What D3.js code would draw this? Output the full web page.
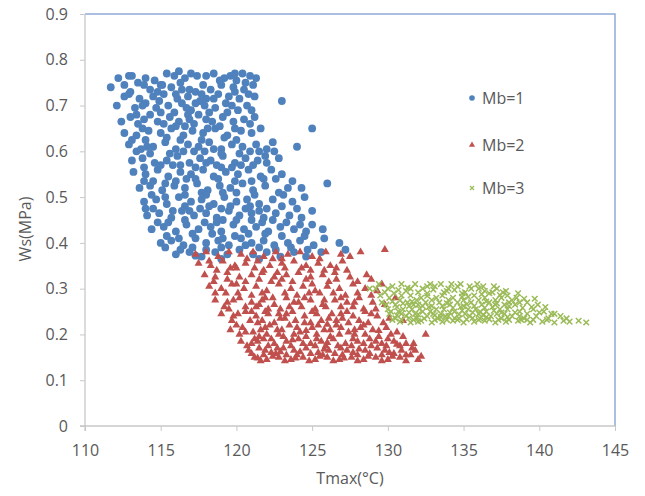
<!DOCTYPE html>
<html lang="en">

<head>
    <meta charset="UTF-8">
    <title>Ws vs Tmax</title>
    <script src="https://d3js.org/d3.v7.min.js"></script>
    <style>
        body {
            margin: 0;
            background: #fff;
        }

        text {
            font-family: "Open Sans", sans-serif;
            fill: #595959;
        }
    </style>
</head>

<body>
    <svg width="645" height="496"></svg>

    <script>
        // [Tmax, Ws] pairs
        const mb1 = [
            [112.2,.76],[113.1,.765],[114.0,.76],[115.4,.77],[115.9,.765],[117.0,.77],[117.4,.765],[118.5,.77],[119.6,.765],[120.4,.77],[120.9,.765],[114.6,.755],[116.6,.76],[119.2,.76],
            [111.7,.74],[112.6,.745],[113.5,.75],[114.3,.735],[115.0,.745],[115.7,.74],[116.3,.75],[117.8,.745],[118.3,.735],[119.0,.745],[119.8,.74],[120.6,.75],[121.1,.745],[116.9,.735],[113.9,.745],
            [112.9,.725],[113.6,.715],[114.5,.72],[115.2,.725],[116.1,.715],[116.8,.72],[117.3,.73],[118.0,.715],[118.8,.725],[119.5,.72],[120.2,.715],[120.8,.725],[114.9,.71],[117.6,.71],[123.0,.71],
            [112.1,.7],[113.3,.695],[114.0,.705],[114.7,.695],[115.5,.7],[116.4,.705],[117.0,.69],[117.9,.7],[118.6,.695],[119.3,.705],[120.1,.69],[120.7,.7],[115.9,.685],[118.2,.685],
            [112.4,.665],[113.0,.675],[113.9,.67],[114.8,.665],[115.6,.675],[116.2,.665],[116.9,.67],[117.5,.68],[118.4,.665],[119.1,.675],[119.8,.665],[120.5,.67],[121.2,.675],[114.3,.68],[117.2,.66],
            [112.6,.64],[113.4,.635],[114.2,.645],[115.0,.64],[115.7,.65],[116.5,.635],[117.1,.645],[117.8,.64],[118.6,.65],[119.4,.635],[120.3,.645],[121.0,.64],[125.0,.65],[116.0,.655],[118.9,.655],
            [112.9,.615],[113.7,.605],[114.5,.61],[115.3,.62],[116.0,.605],[116.8,.615],[117.5,.61],[118.2,.62],[119.0,.605],[119.7,.615],[120.4,.61],[121.3,.615],[122.0,.605],[124.0,.61],[114.0,.625],[117.2,.6],
            [113.1,.58],[113.8,.585],[114.6,.575],[115.4,.58],[116.1,.59],[116.9,.575],[117.6,.585],[118.3,.58],[119.1,.59],[119.9,.575],[120.6,.585],[121.4,.58],[122.8,.585],[115.8,.57],[118.7,.57],[121.9,.59],
            [113.2,.555],[114.0,.55],[114.8,.56],[115.5,.545],[116.3,.555],[117.0,.55],[117.8,.56],[118.5,.545],[119.3,.555],[120.1,.55],[120.8,.56],[121.6,.545],[123.0,.55],[122.3,.56],[116.7,.54],[119.7,.565],
            [113.6,.52],[114.3,.525],[115.1,.515],[115.9,.525],[116.6,.52],[117.4,.53],[118.1,.515],[118.9,.525],[119.6,.52],[120.4,.53],[121.1,.515],[121.9,.525],[126.0,.53],[123.4,.52],[117.7,.51],[120.0,.51],
            [113.9,.49],[114.7,.495],[115.4,.485],[116.2,.5],[117.0,.49],[117.7,.495],[118.5,.485],[119.2,.5],[120.0,.49],[120.7,.495],[121.5,.485],[122.4,.495],[123.7,.49],[116.6,.48],[119.6,.48],[124.5,.5],
            [114.1,.46],[114.9,.465],[115.7,.455],[116.4,.47],[117.2,.46],[118.0,.465],[118.7,.455],[119.5,.47],[120.2,.46],[121.0,.465],[121.8,.455],[122.6,.465],[123.5,.46],[124.3,.455],[117.6,.475],[120.6,.475],
            [114.4,.43],[115.2,.435],[116.0,.425],[116.7,.44],[117.5,.43],[118.3,.435],[119.0,.425],[119.8,.44],[120.5,.43],[121.3,.435],[122.1,.425],[122.9,.435],[123.8,.43],[124.6,.425],[118.7,.445],[121.7,.445],[125.7,.43],
            [115.0,.4],[115.7,.405],[116.5,.395],[117.3,.41],[118.0,.4],[118.8,.405],[119.5,.395],[120.3,.41],[121.0,.4],[121.8,.405],[122.5,.395],[123.4,.4],[124.2,.405],[125.1,.395],[126.8,.4],[119.9,.415],
            [116.0,.375],[116.9,.38],[117.7,.37],[118.6,.38],[119.4,.375],[120.2,.385],[121.1,.375],[122.0,.38],[122.9,.37],[123.8,.38],[124.7,.385],[127.2,.385],
            [115.1,.745],[118.9,.755],[117.7,.725],[119.9,.73],[113.8,.7],[116.7,.695],[119.7,.7],[115.2,.66],[118.0,.67],[120.9,.66],[113.8,.65],[116.3,.625],[119.2,.63],[121.5,.6],
            [114.3,.595],[117.9,.6],[120.2,.595],[115.0,.57],[117.3,.565],[120.3,.57],[114.5,.535],[116.0,.535],[118.8,.54],[121.0,.535],[115.3,.5],[118.0,.505],[121.2,.505],
            [114.5,.475],[116.9,.47],[119.0,.475],[122.0,.475],[115.5,.445],[117.9,.445],[120.0,.45],[122.4,.45],[116.2,.41],[118.4,.42],[120.8,.42],[123.0,.415],
            [117.1,.39],[119.0,.39],[121.5,.39],[123.6,.39],[116.4,.735],[120.0,.755],[113.0,.73],[117.3,.705],[121.2,.72],[114.1,.61],[118.5,.605],[122.6,.54],[124.0,.475],[125.0,.44],[123.1,.505],
            [112.9,.765],[116.2,.775],[118.0,.765],[119.9,.77],[121.3,.76],[114.8,.73],[116.0,.725],[118.5,.715],[120.5,.735],[112.6,.72],[113.4,.68],[115.0,.685],[116.8,.68],[119.4,.685],[121.0,.69],
            [113.5,.66],[116.6,.655],[118.1,.65],[119.9,.65],[121.6,.65],[113.1,.625],[115.4,.63],[117.7,.625],[120.0,.625],[122.4,.62],[113.4,.6],[115.6,.595],[116.5,.6],[119.0,.595],[120.9,.6],[122.5,.6],
            [113.9,.565],[116.3,.57],[118.0,.575],[119.0,.565],[121.1,.57],[122.0,.575],[113.9,.535],[115.3,.53],[117.3,.54],[119.9,.535],[121.8,.54],[123.7,.535],[114.4,.505],[116.6,.505],[119.1,.51],[120.9,.48],[122.8,.51],[124.3,.52],
            [114.0,.475],[115.8,.47],[118.2,.48],[121.5,.47],[123.0,.48],[125.0,.47],[114.8,.445],[116.6,.45],[119.1,.45],[121.0,.45],[123.3,.445],[124.2,.44],[115.4,.415],[117.1,.42],[119.1,.41],[121.9,.42],[124.5,.415],[125.8,.41],
            [115.3,.39],[116.3,.385],[118.0,.385],[120.6,.395],[122.6,.385],[124.6,.37],[125.6,.38],[117.3,.372],[119.0,.365],[121.5,.365]
        ];

        const mb2 = [
            [117.3,.375],[118.0,.38],[118.8,.37],[119.5,.38],[120.3,.375],[121.1,.38],[121.8,.37],[122.6,.38],[123.4,.375],[124.2,.38],[125.0,.37],[125.9,.38],[126.9,.375],[128.2,.38],[129.8,.385],[120.7,.365],[123.0,.365],
            [117.5,.355],[118.3,.35],[119.1,.36],[119.9,.35],[120.6,.355],[121.4,.36],[122.2,.35],[123.0,.355],[123.8,.36],[124.6,.35],[125.4,.355],[126.2,.35],[127.0,.36],[118.7,.34],[121.8,.34],[124.9,.34],
            [117.9,.33],[118.6,.325],[119.4,.335],[120.2,.325],[121.0,.33],[121.7,.335],[122.5,.325],[123.3,.33],[124.1,.335],[124.9,.325],[125.7,.33],[126.5,.335],[127.5,.325],[128.6,.33],[120.6,.315],[123.7,.315],[126.1,.315],
            [118.2,.305],[119.0,.3],[119.7,.31],[120.5,.3],[121.3,.305],[122.0,.295],[122.8,.31],[123.6,.3],[124.4,.305],[125.2,.295],[126.0,.305],[126.8,.3],[127.7,.31],[128.5,.3],[129.3,.295],[121.0,.285],[124.0,.285],[127.2,.285],
            [118.6,.275],[119.4,.27],[120.2,.28],[121.0,.27],[121.7,.275],[122.5,.265],[123.3,.28],[124.1,.27],[124.9,.275],[125.7,.265],[126.5,.275],[127.3,.27],[128.1,.28],[129.0,.27],[129.8,.265],[122.1,.255],[125.2,.255],[128.4,.255],
            [119.0,.245],[119.8,.24],[120.6,.25],[121.3,.24],[122.1,.245],[122.9,.235],[123.7,.25],[124.5,.24],[125.3,.245],[126.1,.235],[126.9,.245],[127.7,.24],[128.5,.25],[129.3,.24],[130.1,.235],[121.7,.23],[124.9,.225],[127.4,.225],
            [119.6,.21],[120.4,.215],[121.1,.205],[121.9,.215],[122.7,.21],[123.5,.22],[124.2,.205],[125.0,.215],[125.8,.21],[126.6,.22],[127.4,.205],[128.2,.215],[129.0,.21],[129.9,.215],[130.6,.205],[123.1,.195],[126.2,.195],[129.4,.195],
            [120.3,.185],[121.0,.18],[121.8,.19],[122.5,.18],[123.3,.185],[124.1,.19],[124.9,.18],[125.6,.185],[126.4,.19],[127.2,.18],[128.0,.185],[128.8,.19],[129.6,.18],[130.4,.185],[131.2,.18],
            [120.8,.165],[121.5,.17],[122.3,.16],[123.1,.17],[123.8,.165],[124.6,.17],[125.4,.16],[126.1,.165],[126.9,.17],[127.7,.16],[128.5,.165],[129.3,.17],[130.1,.16],[130.9,.165],[131.6,.17],
            [121.2,.15],[122.0,.145],[122.8,.15],[123.6,.145],[124.4,.15],[125.2,.145],[126.0,.15],[126.8,.145],[127.6,.15],[128.4,.145],[129.2,.15],[130.0,.145],[130.8,.15],[132.0,.145],[131.5,.155],
            [122.0,.2],[124.6,.195],[127.8,.2],[121.4,.225],[123.9,.23],[126.3,.245],[119.3,.29],[122.4,.28],[125.5,.29],[120.0,.345],[123.2,.345],[126.6,.345],
            [122.7,.17],[125.9,.175],[128.9,.175],[124.0,.155],[127.0,.155],[129.9,.175],[120.6,.26],[123.5,.26],[126.9,.26],[119.4,.32],[122.3,.315],[125.0,.31],
            [131.0,.23],[130.5,.28],[132.5,.2],
            [118.6,.29],[120.1,.29],[121.7,.29],[123.2,.29],[124.8,.29],[126.4,.29],[128.0,.29],
            [119.2,.26],[121.3,.26],[122.9,.255],[124.3,.26],[125.9,.26],[127.7,.26],[129.2,.255],
            [119.7,.23],[120.9,.23],[122.5,.225],[123.2,.235],[125.6,.23],[126.6,.23],[128.1,.23],[129.7,.225],
            [120.2,.2],[121.5,.195],[122.8,.2],[123.8,.2],[125.3,.2],[126.8,.2],[128.5,.2],[130.2,.2],[131.0,.195],
            [120.7,.175],[121.4,.185],[122.1,.175],[123.6,.175],[124.4,.18],[125.2,.175],[126.7,.175],[127.6,.175],[128.4,.18],[130.0,.19],[130.8,.175],[131.7,.18],
            [121.0,.158],[121.8,.155],[122.6,.158],[123.3,.155],[124.9,.158],[125.7,.155],[126.5,.158],[128.0,.155],[128.8,.158],[129.6,.155],[130.4,.158],[131.2,.155],
            [121.6,.142],[123.2,.142],[124.8,.142],[126.4,.142],[128.0,.142],[129.6,.142],[131.2,.142],[132.2,.152],
            [118.5,.315],[120.0,.31],[121.5,.32],[123.0,.32],[124.6,.32],[126.6,.32],[128.0,.315],[119.6,.345],[121.2,.345],[122.7,.335],[124.3,.345],[125.8,.34],[127.3,.34],[118.2,.36],[122.4,.365],[125.5,.365],[127.5,.37],
            [120.1,.245],[121.9,.25],[123.3,.245],[124.0,.215],[125.4,.22],[126.9,.215],[128.7,.225],[127.0,.235],[121.5,.265],[123.8,.27],[125.8,.275],[127.8,.27],[128.9,.285],[129.6,.31],[128.9,.32],
            [121.4,.148],[122.4,.152],[123.9,.148],[125.5,.152],[127.1,.148],[128.7,.152],[130.3,.152],[121.9,.165],[122.9,.162],[124.2,.162],[125.8,.168],[127.3,.165],[128.1,.168],[129.8,.165],
            [121.2,.19],[122.3,.19],[123.7,.188],[125.3,.19],[126.0,.182],[127.7,.19],[129.2,.185],[130.6,.178],[120.6,.205],[121.6,.21],[123.0,.21],[124.6,.208],[126.2,.21],[127.8,.21],[129.4,.208],
            [120.0,.22],[122.2,.22],[124.5,.225],[126.0,.222],[128.4,.22],[131.8,.165],
            [119.8,.275],[121.9,.28],[124.5,.28],[126.9,.28],[119.5,.255],[121.0,.25],[122.8,.245],[125.0,.25],[127.3,.25],[128.9,.245]
        ];

        const mb3 = [
            [129.2,.3],[130.3,.305],[131.2,.295],[132.3,.3],[133.1,.305],[133.9,.295],[134.6,.305],[135.5,.3],[136.4,.295],[137.2,.3],[131.8,.31],[134.2,.31],
            [129.5,.285],[130.1,.28],[130.8,.275],[131.5,.285],[132.2,.28],[132.9,.275],[133.6,.285],[134.3,.28],[135.0,.275],[135.7,.285],[136.4,.28],[137.1,.275],[137.9,.285],[138.5,.28],
            [129.9,.265],[130.6,.26],[131.3,.27],[132.0,.265],[132.7,.26],[133.4,.27],[134.1,.265],[134.8,.26],[135.5,.27],[136.2,.265],[136.9,.26],[137.7,.265],[138.4,.265],[139.2,.27],
            [130.2,.25],[130.9,.245],[131.6,.255],[132.3,.25],[133.0,.245],[133.7,.255],[134.4,.25],[135.1,.245],[135.8,.255],[136.5,.25],[137.2,.245],[137.9,.255],[138.7,.25],[139.6,.255],[140.3,.25],
            [130.5,.235],[131.2,.24],[131.9,.235],[132.6,.24],[133.3,.235],[134.0,.24],[134.7,.235],[135.4,.24],[136.1,.235],[136.8,.24],[137.5,.235],[138.2,.24],[139.0,.235],[139.8,.24],[140.6,.235],[141.4,.24],
            [130.8,.228],[131.5,.226],[132.2,.23],[132.9,.226],[133.6,.228],[134.3,.23],[135.0,.226],[135.7,.228],[136.4,.23],[137.1,.226],[137.8,.228],[138.6,.23],[139.4,.226],[140.2,.228],[141.0,.226],[142.0,.228],[143.1,.226],
            [130.4,.29],[131.0,.255],[132.6,.29],[133.2,.255],[134.9,.29],[135.3,.255],[136.0,.245],[137.4,.255],[131.7,.265],[133.8,.24],[129.6,.27],[130.0,.3],[138.0,.27],[139.5,.26],[140.8,.245],[136.7,.29],[135.9,.31],[133.5,.31],[128.8,.3],
            [129.8,.292],[130.7,.297],[131.5,.3],[132.0,.292],[133.0,.298],[134.4,.297],[135.1,.292],[136.0,.3],[136.9,.292],[137.6,.292],
            [130.3,.272],[131.0,.268],[131.9,.275],[132.5,.27],[133.2,.28],[134.0,.275],[134.6,.27],[135.3,.282],[136.0,.275],[136.7,.27],[137.5,.28],[138.2,.275],[139.0,.278],
            [130.0,.255],[130.7,.25],[131.4,.262],[132.1,.256],[132.9,.262],[133.6,.262],[134.3,.258],[135.0,.262],[135.7,.262],[136.4,.258],[137.1,.265],[138.0,.262],[138.9,.258],[139.9,.265],
            [130.6,.242],[131.4,.248],[132.0,.244],[132.8,.25],[133.5,.245],[134.1,.248],[134.9,.252],[135.6,.248],[136.3,.242],[137.0,.252],[137.7,.245],[138.4,.248],[139.2,.245],[140.0,.248],[141.0,.245],[141.8,.235],
            [130.9,.232],[131.7,.232],[132.4,.235],[133.1,.232],[133.9,.232],[134.6,.232],[135.2,.233],[136.0,.232],[136.7,.233],[137.3,.232],[138.0,.232],[138.8,.232],[139.6,.232],[140.5,.232],[141.6,.23],[142.6,.23],
            [129.4,.31],[130.9,.31],[132.8,.31],[134.8,.31],[136.3,.305],[137.8,.295],[138.6,.29],[139.7,.278],[140.4,.26],
            [130.3,.232],[131.4,.236],[132.0,.228],[133.5,.238],[134.4,.236],[135.6,.236],[136.5,.238],[137.9,.238],[139.2,.232],[130.1,.245],[131.8,.245],[133.1,.242],[134.7,.244],[136.1,.25],[137.5,.248],[138.7,.24],
            [130.5,.265],[131.6,.272],[132.3,.262],[133.9,.268],[135.2,.266],[136.5,.272],[137.2,.268],[138.7,.27],[130.9,.285],[132.6,.284],[133.7,.292],[134.9,.282],[136.2,.288],[137.4,.286],
            [131.3,.302],[132.6,.305],[134.0,.3],[135.4,.305],[137.0,.305]
        ];

        const xTicks = [110, 115, 120, 125, 130, 135, 140, 145];
        const yTicks = [0, 0.1, 0.2, 0.3, 0.4, 0.5, 0.6, 0.7, 0.8, 0.9];
        const seriesNames = ["Mb=1", "Mb=2", "Mb=3"];
        const seriesColors = ["#4F81BD", "#C0504D", "#9BBB59"];

        const svg = d3.select("svg");
        const mLeft = 85, mRight = 615, mTop = 14, mBottom = 426;

        const x = d3.scaleLinear().domain([110, 145]).range([mLeft, mRight]);
        const y = d3.scaleLinear().domain([0, 0.9]).range([mBottom, mTop]);

        // top / right frame in blue
        svg.append("path")
            .attr("d", `M${mLeft},${mTop}H${mRight}V${mBottom}`)
            .attr("fill", "none")
            .attr("stroke", "#8eaad8")
            .attr("stroke-width", 1.5);

        const yAxis = svg.append("g")
            .attr("transform", `translate(${mLeft},0)`)
            .call(d3.axisLeft(y).tickValues(yTicks).tickFormat(d3.format("")).tickSize(5).tickPadding(12));

        const xAxis = svg.append("g")
            .attr("transform", `translate(0,${mBottom})`)
            .call(d3.axisBottom(x).tickValues(xTicks).tickSize(5).tickPadding(14));

        [xAxis, yAxis].forEach(g => {
            g.select(".domain").attr("stroke", "#c8c8c8").attr("stroke-width", 1.3);
            g.selectAll(".tick line").attr("stroke", "#c8c8c8");
            g.selectAll(".tick text")
                .style("font-family", "'Open Sans', sans-serif")
                .style("font-size", "16px")
                .attr("fill", "#595959");
        });
        yAxis.select(".domain").attr("d", `M-5,${mBottom}H0V${mTop}`);
        xAxis.select(".domain").attr("d", `M${mLeft},5V0H${mRight}`);

        // points
        const pts = svg.append("g");

        pts.selectAll("circle")
            .data(mb1)
            .enter()
            .append("circle")
            .attr("cx", d => x(d[0]))
            .attr("cy", d => y(d[1]))
            .attr("r", 3.9)
            .attr("fill", seriesColors[0]);

        const tri = d3.symbol().type(d3.symbolTriangle).size(28);
        pts.selectAll("path.tri")
            .data(mb2)
            .enter()
            .append("path")
            .attr("class", "tri")
            .attr("d", tri)
            .attr("transform", d => `translate(${x(d[0])},${y(d[1])})`)
            .attr("fill", seriesColors[1]);

        const cross = s => `M${-s},${-s}L${s},${s}M${-s},${s}L${s},${-s}`;
        pts.selectAll("path.cross")
            .data(mb3)
            .enter()
            .append("path")
            .attr("class", "cross")
            .attr("d", cross(2.8))
            .attr("transform", d => `translate(${x(d[0])},${y(d[1])})`)
            .attr("stroke", seriesColors[2])
            .attr("stroke-width", 1.5)
            .attr("fill", "none");

        // legend
        const legendY = [98, 145, 188];
        const legend = svg.append("g");
        legend.append("circle").attr("cx", 472).attr("cy", legendY[0]).attr("r", 2.8).attr("fill", seriesColors[0]);
        legend.append("path").attr("d", d3.symbol().type(d3.symbolTriangle).size(16))
            .attr("transform", `translate(472,${legendY[1]})`).attr("fill", seriesColors[1]);
        legend.append("path").attr("d", cross(2))
            .attr("transform", `translate(472,${legendY[2]})`)
            .attr("stroke", seriesColors[2]).attr("stroke-width", 1.2);
        legend.selectAll("text")
            .data(seriesNames)
            .enter()
            .append("text")
            .attr("x", 482)
            .attr("y", (d, i) => legendY[i])
            .attr("dy", "0.36em")
            .style("font-size", "16px")
            .text(d => d);

        // axis titles
        svg.append("text")
            .attr("x", (mLeft + mRight) / 2)
            .attr("y", 478)
            .attr("text-anchor", "middle")
            .attr("dy", "0.36em")
            .style("font-size", "16px")
            .text("Tmax(°C)");

        svg.append("text")
            .attr("transform", "translate(25,229) rotate(-90)")
            .attr("text-anchor", "middle")
            .attr("dy", "0.36em")
            .style("font-size", "16px")
            .text("Ws(MPa)");
    </script>
</body>

</html>
